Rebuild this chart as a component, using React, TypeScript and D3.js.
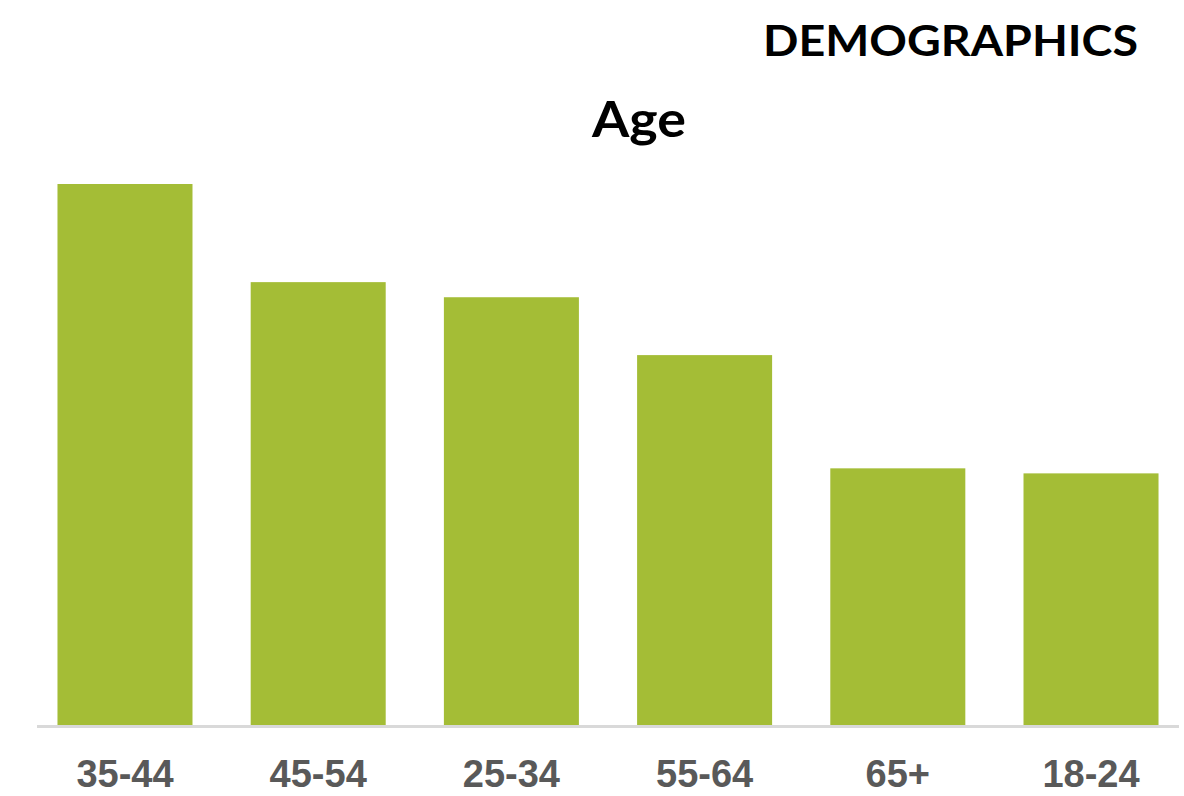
import React from "react";
import * as d3 from "d3";

const categories = ["35-44", "45-54", "25-34", "55-64", "65+", "18-24"];
const values = [21.5, 17.6, 17.0, 14.7, 10.2, 10.0];
const mainTitle = "DEMOGRAPHICS";
const chartTitle = "Age";

const W = 1184;
const H = 796;

export default function App() {
  const x = d3
    .scaleBand<string>()
    .domain(categories)
    .range([37, 1179])
    .paddingInner(0.3012)
    .paddingOuter(0.106);
  const y = d3.scaleLinear().domain([0, 21.5]).range([725, 184]);
  const titleFont = "'Lato', 'Liberation Sans', sans-serif";
  const labelFont = "'Liberation Sans', Arial, sans-serif";
  return (
    <svg
      width={W}
      height={H}
      style={{ position: "absolute", left: 0, top: 0, background: "#fff" }}
    >
      <text
        x={1138}
        y={56}
        textAnchor="end"
        fontFamily={titleFont}
        fontWeight={700}
        fontSize={42}
        fill="#000"
        textLength={375}
        lengthAdjust="spacingAndGlyphs"
      >
        {mainTitle}
      </text>
      <text
        x={639}
        y={137}
        textAnchor="middle"
        fontFamily={titleFont}
        fontWeight={700}
        fontSize={50}
        fill="#000"
        textLength={94}
        lengthAdjust="spacingAndGlyphs"
      >
        {chartTitle}
      </text>
      {categories.map((c, i) => (
        <rect
          key={c}
          x={x(c)}
          y={y(values[i])}
          width={x.bandwidth()}
          height={y(0) - y(values[i])}
          fill="#A4BD36"
        />
      ))}
      <line
        x1={x.range()[0]}
        x2={x.range()[1]}
        y1={y(0) + 1.5}
        y2={y(0) + 1.5}
        stroke="#D9D9D9"
        strokeWidth={3}
      />
      {categories.map((c) => (
        <text
          key={c}
          x={(x(c) as number) + x.bandwidth() / 2}
          y={787}
          textAnchor="middle"
          fontFamily={labelFont}
          fontWeight={700}
          fontSize={38}
          fill="#595959"
        >
          {c}
        </text>
      ))}
    </svg>
  );
}
